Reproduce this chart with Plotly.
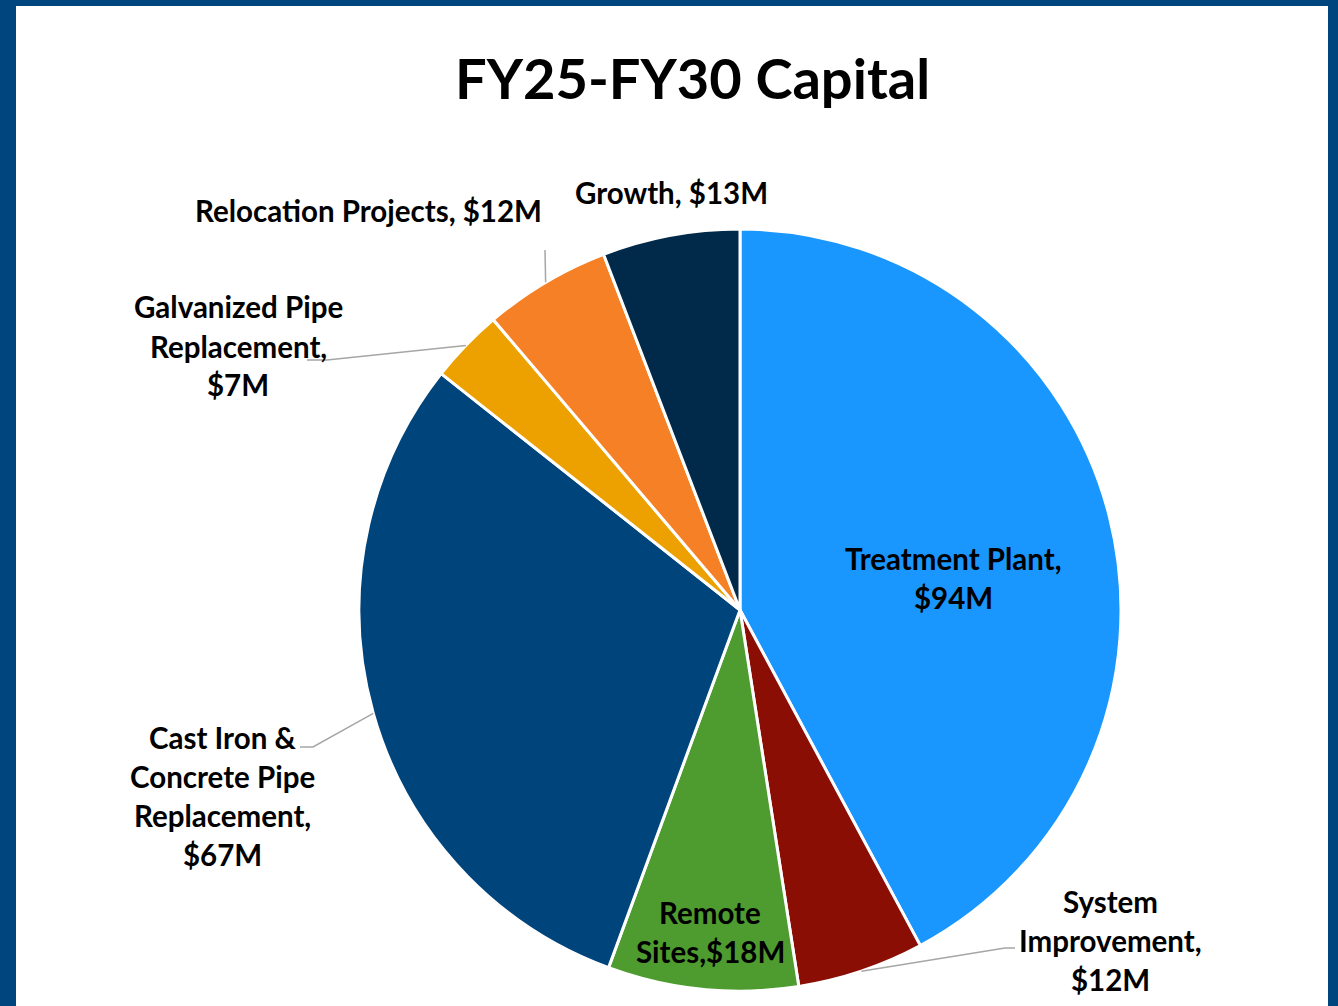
import math
import plotly.graph_objects as go

# ---- data ----
categories = ["Treatment Plant", "System Improvement", "Remote Sites",
              "Cast Iron & Concrete Pipe Replacement", "Galvanized Pipe Replacement",
              "Relocation Projects", "Growth"]
values = [94, 12, 18, 67, 7, 12, 13]
label_lines = [
    ["Treatment Plant,", "$94M"],
    ["System", "Improvement,", "$12M"],
    ["Remote", "Sites,$18M"],
    ["Cast Iron &", "Concrete Pipe", "Replacement,", "$67M"],
    ["Galvanized Pipe", "Replacement,", "$7M"],
    ["Relocation Projects, $12M"],
    ["Growth, $13M"],
]
colors = ["#1A96FF", "#8B0E04", "#4E9B2F", "#00447C", "#EDA100", "#F58025", "#00294A"]
title = "FY25-FY30 Capital"

# ---- layout constants (pixels) ----
W, H = 1338, 1006
CX, CY, R = 740, 610, 381
FRAME = "#00457D"
FONT = "Lato"
FS = 29.5
LINE_H = 39

# label positions: (center x, first-line center y)
label_pos = [(953, 558), (1110, 901), (710, 912), (222, 737), (238, 307), (368, 210), (671, 192)]
# leader elbow points (None = no leader)
leaders = [None, [(1005, 948), (1015, 948)], None, [(313, 747), (300, 747)],
           [(327, 360), (307, 360)], [(545, 250)], None]


def px(x):
    return x / W


def py(y):
    return 1 - y / H


fig = go.Figure()
fig.add_trace(go.Pie(
    labels=categories, values=values, sort=False, direction="clockwise", rotation=0,
    marker=dict(colors=colors, line=dict(color="white", width=3)),
    textinfo="none", hoverinfo="label+value", showlegend=False,
    domain=dict(x=[px(CX - R), px(CX + R)], y=[py(CY + R), py(CY - R)]),
))

shapes = [dict(type="rect", xref="paper", yref="paper", x0=px(16), x1=px(1328),
               y0=0, y1=py(6), fillcolor="white", line=dict(width=0), layer="below")]
annotations = []

total = sum(values)
cum = 0
for i, v in enumerate(values):
    mid = (cum + v / 2) / total * 2 * math.pi
    cum += v
    ax = CX + R * math.sin(mid)
    ay = CY - R * math.cos(mid)
    if leaders[i]:
        pts = [(ax, ay)] + leaders[i]
        path = "M " + " L ".join(f"{px(x):.5f},{py(y):.5f}" for x, y in pts)
        shapes.append(dict(type="path", xref="paper", yref="paper", path=path,
                           line=dict(color="#A6A6A6", width=1.5)))
    lx, ly = label_pos[i]
    for j, t in enumerate(label_lines[i]):
        annotations.append(dict(text=f"<b>{t}</b>", x=px(lx), y=py(ly + j * LINE_H),
                                xref="paper", yref="paper", xanchor="center", yanchor="middle",
                                showarrow=False, font=dict(family=FONT, size=FS, color="black")))

annotations.append(dict(text=f"<b>{title}</b>", x=px(692), y=py(77), xref="paper", yref="paper",
                        xanchor="center", yanchor="middle", showarrow=False,
                        font=dict(family=FONT, size=56, color="black")))

fig.update_layout(width=W, height=H, margin=dict(l=0, r=0, t=0, b=0),
                  paper_bgcolor=FRAME, shapes=shapes, annotations=annotations)
fig.write_html("out.html", config={"displayModeBar": False},
               post_script="document.body.style.margin='0';")
